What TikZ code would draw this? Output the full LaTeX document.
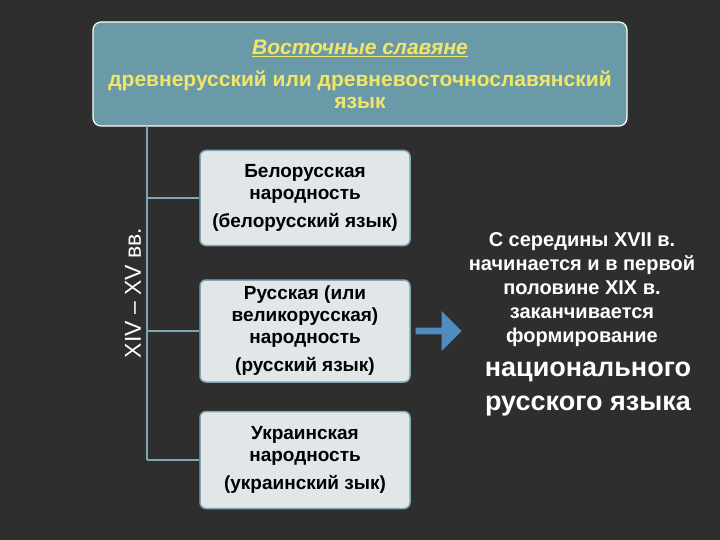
\documentclass[tikz,border=0pt]{standalone}
\usepackage{fontspec}
\setmainfont{Liberation Sans}
\usetikzlibrary{shapes.arrows}
\definecolor{bg}{HTML}{2E2E2E}
\definecolor{teal}{HTML}{6A9AA8}
\definecolor{ylw}{HTML}{F2E66A}
\definecolor{boxf}{HTML}{E2E6E8}
\definecolor{ln}{HTML}{7FA6B4}
\definecolor{arrc}{HTML}{4F8CC0}
\tikzset{
 sub/.style={draw=ln,line width=1.5pt,fill=boxf,rounded corners=6pt,minimum width=210pt,align=center,font=\bfseries\fontsize{19}{22}\selectfont,text=black},
 conn/.style={draw=ln,line width=1.2pt}
}
\begin{document}
\begin{tikzpicture}[x=1pt,y=-1pt]
\fill[bg] (0,0) rectangle (720,540);
\useasboundingbox (0,0) rectangle (720,540);
\node[draw=white,line width=1.2pt,fill=teal,rounded corners=8pt,minimum width=534pt,minimum height=104pt,align=center,text=ylw,font=\bfseries\fontsize{21}{22}\selectfont] (top) at (360,74) {\underline{\textit{Восточные славяне}}\\[10pt]древнерусский или древневосточнославянский\\язык};
\node[sub,minimum height=95pt] (b1) at (305,198) {Белорусская\\народность\\[6pt](белорусский язык)};
\node[sub,minimum height=102pt] (b2) at (305,331) {Русская (или\\великорусская)\\народность\\[6pt](русский язык)};
\node[sub,minimum height=97pt] (b3) at (305,460) {Украинская\\народность\\[6pt](украинский зык)};
\coordinate (v0) at (147,126);
\coordinate (v3) at (147,460);
\draw[conn] (v0) -- (v3);
\draw[conn] (147,198) -- (b1.west);
\draw[conn] (147,331) -- (b2.west);
\draw[conn] (v3) -- (b3.west);
\node[rotate=90,text=white,font=\fontsize{23}{26}\selectfont] (era) at (133,293) {XIV – XV вв.};
\node[single arrow,fill=arrc,draw=none,minimum height=46pt,minimum width=40pt,single arrow head extend=6pt,inner sep=1pt] (arr) at (437,331) {};
\node[text=white,align=center,font=\bfseries\fontsize{20}{24}\selectfont] (txt) at (582,290) {С середины XVII в.\\начинается и в первой\\половине XIX в.\\заканчивается\\формирование};
\node[text=white,align=center,font=\bfseries\fontsize{27}{34}\selectfont] (txt2) at (588,389) {национального\\русского языка};
\end{tikzpicture}
\end{document}
